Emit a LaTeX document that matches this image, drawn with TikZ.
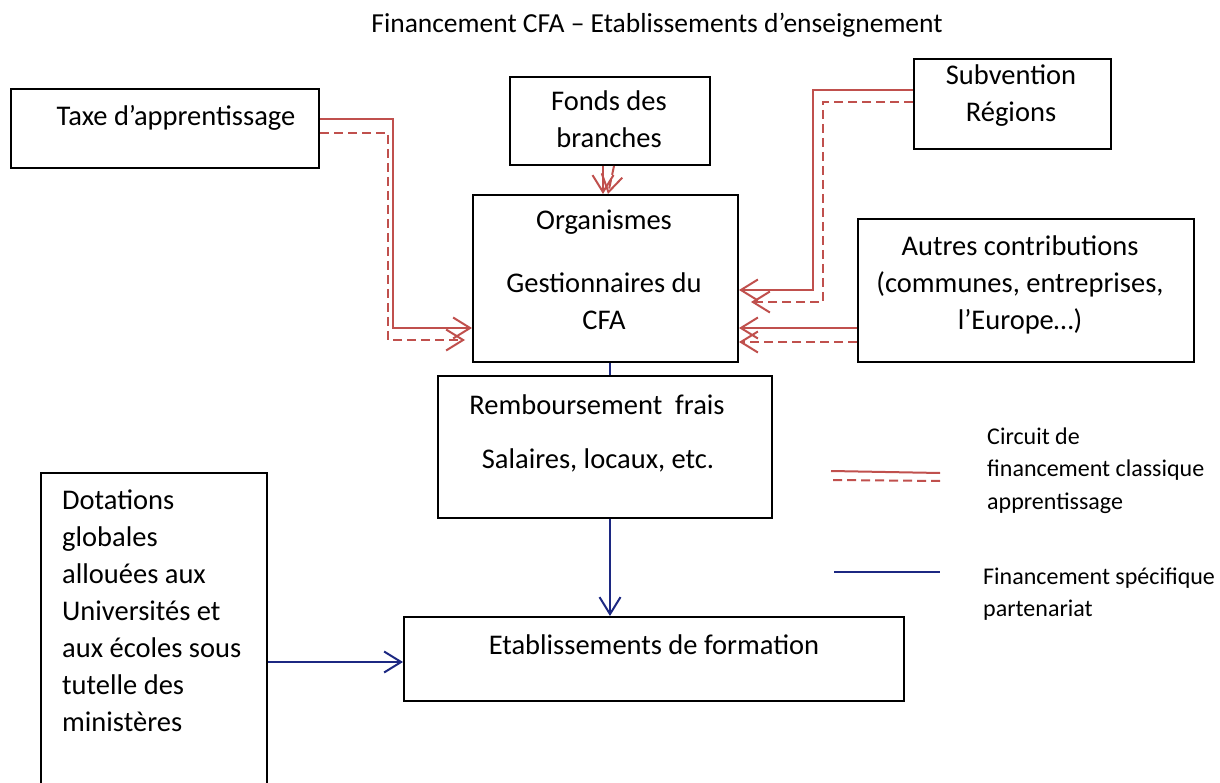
\documentclass[tikz,border=0pt]{standalone}
\usepackage{fontspec}
\setmainfont{Carlito}
\usetikzlibrary{arrows.meta,calc}
\definecolor{cred}{RGB}{192,80,77}
\definecolor{cblue}{RGB}{28,40,130}
\begin{document}
\begin{tikzpicture}[x=1pt,y=-1pt,
  box/.style={draw=black,line width=2pt,inner sep=0pt,anchor=north west},
  txt/.style={inner sep=0pt,align=center,font=\fontsize{28.5}{37}\selectfont},
  ltxt/.style={inner sep=0pt,align=left,anchor=west,font=\fontsize{24}{32.5}\selectfont},
  rs/.style={draw=cred,line width=2pt},
  rd/.style={draw=cred,line width=2pt,dash pattern=on 9pt off 5pt},
  bl/.style={draw=cblue,line width=2pt},
  tip/.style={-{Straight Barb[length=17pt,width=21pt]}}]
\useasboundingbox (0,0) rectangle (1220,783);
% title
\node[txt,font=\fontsize{27.5}{30}\selectfont] (title) at (657,25) {Financement CFA – Etablissements d’enseignement};
% boxes
\node[box,minimum width=308pt,minimum height=79pt] (taxe) at (10,88) {};
\node[box,minimum width=200pt,minimum height=88pt] (fonds) at (509,76) {};
\node[box,minimum width=197pt,minimum height=90pt] (subv) at (913,58) {};
\node[box,minimum width=265pt,minimum height=167pt] (org) at (472,194) {};
\node[box,minimum width=336pt,minimum height=143pt] (autres) at (857,218) {};
\node[box,minimum width=334pt,minimum height=142pt] (rem) at (437,375) {};
\node[box,minimum width=226pt,minimum height=320pt] (dot) at (40,472) {};
\node[box,minimum width=500pt,minimum height=84pt] (etab) at (403,616) {};
% texts
\node[txt] (taxet) at (176,118) {Taxe d’apprentissage};
\node[txt] (fondst) at (609,119.5) {Fonds des\\branches};
\node[txt] (subvt) at (1011,96) {Subvention\\Régions};
\node[txt] (orgt1) at (604,222) {Organismes};
\node[txt] (orgt2) at (604,301) {Gestionnaires du\\CFA};
\node[txt] (autrest) at (1020,285) {Autres contributions\\(communes, entreprises,\\l’Europe…)};
\node[txt] (remt1) at (597,405) {Remboursement~~frais};
\node[txt] (remt2) at (598,460) {Salaires, locaux, etc.};
\node[txt] (etabt) at (654,645) {Etablissements de formation};
\node[txt,align=left,anchor=west] (dott) at (62,611) {Dotations\\globales\\allouées aux\\Universités et\\aux écoles sous\\tutelle des\\ministères};
\node[ltxt] (leg1) at (987,470.5) {Circuit de\\financement classique\\apprentissage};
\node[ltxt] (leg2) at (983,594) {Financement spécifique\\partenariat};
% red connectors
\draw[rs,tip] ([yshift=9.5pt]taxe.east) -- ++(73,0) |- ([yshift=-49.5pt]org.west);
\draw[rd,tip] ([yshift=-4.5pt]taxe.east) -- ++(68,0) |- ([xshift=-7pt,yshift=-61.5pt]org.west);
\draw[rs,tip] ([xshift=-7pt]fonds.south) -- ([xshift=-7pt]fonds.south |- org.north);
\draw[rd,tip] ([xshift=4pt]fonds.south) -- ([xshift=-2pt]fonds.south |- org.north);
\draw[rs,tip] ([yshift=14pt]subv.west) -- ++(-100,0) |- ([yshift=-11.5pt]org.east);
\draw[rd,tip] ([yshift=2pt]subv.west) -- ++(-90,0) |- ([xshift=12pt,yshift=-23.5pt]org.east);
\draw[rs,tip] ([yshift=-37.5pt]autres.west) -- ([yshift=-49.5pt]org.east);
\draw[rd,tip] ([yshift=-51.5pt]autres.west) -- ([yshift=-63.5pt]org.east);
% blue connectors
\draw[bl] ([xshift=4.5pt]org.south) -- ([xshift=4.5pt]org.south |- rem.north);
\draw[bl,tip] ([xshift=4.5pt]org.south |- rem.south) -- ([xshift=4.5pt]org.south |- etab.north);
\draw[bl,tip] ([yshift=-3pt]etab.west -| dot.east) -- ([yshift=-3pt]etab.west);
% legend
\coordinate (la1) at (831,471);
\coordinate (la2) at (940,473);
\coordinate (lb1) at (833,480);
\coordinate (lb2) at (940,481);
\coordinate (lc1) at (834,572);
\coordinate (lc2) at (940,572);
\draw[rs] (la1) -- (la2);
\draw[rd] (lb1) -- (lb2);
\draw[bl] (lc1) -- (lc2);
\end{tikzpicture}
\end{document}
